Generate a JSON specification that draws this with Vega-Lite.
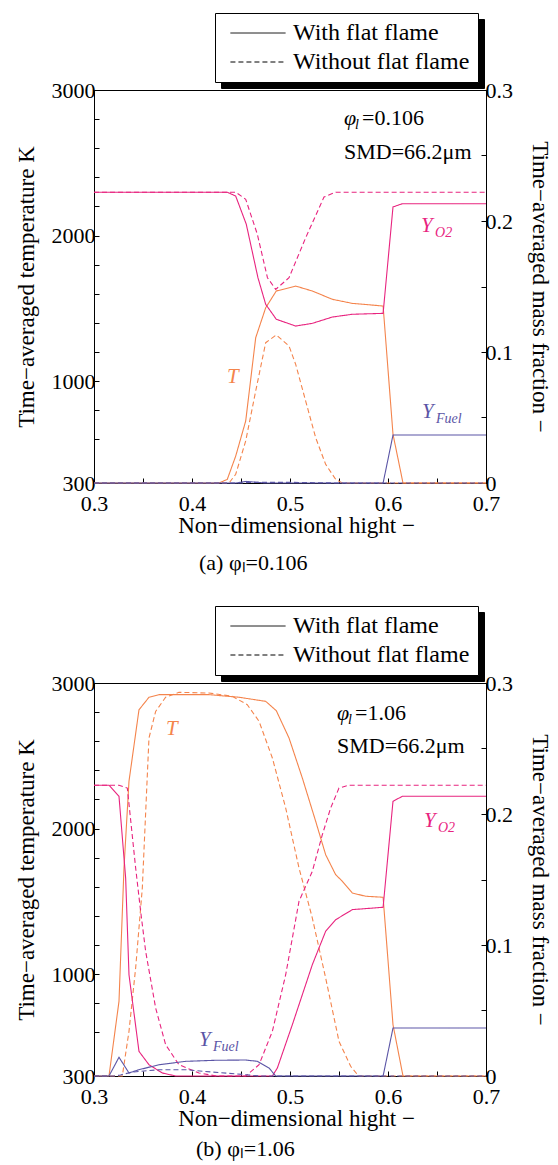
{
  "$schema": "https://vega.github.io/schema/vega-lite/v6.json",
  "padding": {"top": 12, "left": 14, "right": 6, "bottom": 0},
  "spacing": 30,
  "config": {
    "font": "Liberation Serif",
    "view": {"stroke": "black", "strokeWidth": 1},
    "axis": {"domainColor": "black", "tickColor": "black", "labelColor": "black", "titleColor": "black", "labelFont": "Liberation Serif", "titleFont": "Liberation Serif", "titleFontWeight": "normal", "grid": false, "labelFontSize": 22, "titleFontSize": 23, "labelFlush": false, "labelOverlap": false, "tickSize": -5},
    "legend": {"labelFont": "Liberation Serif", "labelLimit": 400, "symbolOpacity": 1},
    "text": {"font": "Liberation Serif"},
    "title": {"font": "Liberation Serif", "fontWeight": "normal", "fontSize": 22, "color": "black"}
  },
  "datasets": {
    "lines": [
      {"p":"a","v":"T","c":"With flat flame","x":0.3,"val":300},
      {"p":"a","v":"T","c":"With flat flame","x":0.4276,"val":300},
      {"p":"a","v":"T","c":"With flat flame","x":0.436,"val":325},
      {"p":"a","v":"T","c":"With flat flame","x":0.4446,"val":485},
      {"p":"a","v":"T","c":"With flat flame","x":0.4548,"val":726},
      {"p":"a","v":"T","c":"With flat flame","x":0.465,"val":1298},
      {"p":"a","v":"T","c":"With flat flame","x":0.4752,"val":1504},
      {"p":"a","v":"T","c":"With flat flame","x":0.486,"val":1619},
      {"p":"a","v":"T","c":"With flat flame","x":0.5058,"val":1653},
      {"p":"a","v":"T","c":"With flat flame","x":0.5228,"val":1619},
      {"p":"a","v":"T","c":"With flat flame","x":0.5432,"val":1562},
      {"p":"a","v":"T","c":"With flat flame","x":0.5636,"val":1534},
      {"p":"a","v":"T","c":"With flat flame","x":0.595,"val":1516},
      {"p":"a","v":"T","c":"With flat flame","x":0.6051,"val":635},
      {"p":"a","v":"T","c":"With flat flame","x":0.6153,"val":300},
      {"p":"a","v":"T","c":"With flat flame","x":0.7,"val":300},

      {"p":"a","v":"T","c":"Without flat flame","x":0.3,"val":300},
      {"p":"a","v":"T","c":"Without flat flame","x":0.4378,"val":300},
      {"p":"a","v":"T","c":"Without flat flame","x":0.4446,"val":360},
      {"p":"a","v":"T","c":"Without flat flame","x":0.4548,"val":589},
      {"p":"a","v":"T","c":"Without flat flame","x":0.465,"val":932},
      {"p":"a","v":"T","c":"Without flat flame","x":0.4752,"val":1264},
      {"p":"a","v":"T","c":"Without flat flame","x":0.486,"val":1317},
      {"p":"a","v":"T","c":"Without flat flame","x":0.499,"val":1241},
      {"p":"a","v":"T","c":"Without flat flame","x":0.5058,"val":1115},
      {"p":"a","v":"T","c":"Without flat flame","x":0.516,"val":863},
      {"p":"a","v":"T","c":"Without flat flame","x":0.5262,"val":611},
      {"p":"a","v":"T","c":"Without flat flame","x":0.5364,"val":428},
      {"p":"a","v":"T","c":"Without flat flame","x":0.5466,"val":325},
      {"p":"a","v":"T","c":"Without flat flame","x":0.5534,"val":300},
      {"p":"a","v":"T","c":"Without flat flame","x":0.7,"val":300},

      {"p":"a","v":"O2","c":"With flat flame","x":0.3,"val":0.222},
      {"p":"a","v":"O2","c":"With flat flame","x":0.436,"val":0.222},
      {"p":"a","v":"O2","c":"With flat flame","x":0.4446,"val":0.219},
      {"p":"a","v":"O2","c":"With flat flame","x":0.4554,"val":0.1975},
      {"p":"a","v":"O2","c":"With flat flame","x":0.4673,"val":0.1567},
      {"p":"a","v":"O2","c":"With flat flame","x":0.4752,"val":0.1364},
      {"p":"a","v":"O2","c":"With flat flame","x":0.486,"val":0.125},
      {"p":"a","v":"O2","c":"With flat flame","x":0.5058,"val":0.1198},
      {"p":"a","v":"O2","c":"With flat flame","x":0.5228,"val":0.1219},
      {"p":"a","v":"O2","c":"With flat flame","x":0.5432,"val":0.1267},
      {"p":"a","v":"O2","c":"With flat flame","x":0.5636,"val":0.1288},
      {"p":"a","v":"O2","c":"With flat flame","x":0.595,"val":0.1295},
      {"p":"a","v":"O2","c":"With flat flame","x":0.6051,"val":0.2107},
      {"p":"a","v":"O2","c":"With flat flame","x":0.6146,"val":0.2132},
      {"p":"a","v":"O2","c":"With flat flame","x":0.7,"val":0.2132},

      {"p":"a","v":"O2","c":"Without flat flame","x":0.3,"val":0.222},
      {"p":"a","v":"O2","c":"Without flat flame","x":0.4446,"val":0.222},
      {"p":"a","v":"O2","c":"Without flat flame","x":0.4548,"val":0.2166},
      {"p":"a","v":"O2","c":"Without flat flame","x":0.4667,"val":0.1898},
      {"p":"a","v":"O2","c":"Without flat flame","x":0.477,"val":0.1567},
      {"p":"a","v":"O2","c":"Without flat flame","x":0.4854,"val":0.1478},
      {"p":"a","v":"O2","c":"Without flat flame","x":0.499,"val":0.1567},
      {"p":"a","v":"O2","c":"Without flat flame","x":0.516,"val":0.1872},
      {"p":"a","v":"O2","c":"Without flat flame","x":0.5347,"val":0.2183},
      {"p":"a","v":"O2","c":"Without flat flame","x":0.5466,"val":0.222},
      {"p":"a","v":"O2","c":"Without flat flame","x":0.7,"val":0.222},

      {"p":"a","v":"Fuel","c":"With flat flame","x":0.3,"val":0},
      {"p":"a","v":"Fuel","c":"With flat flame","x":0.445,"val":0},
      {"p":"a","v":"Fuel","c":"With flat flame","x":0.455,"val":0.0012},
      {"p":"a","v":"Fuel","c":"With flat flame","x":0.465,"val":0.0006},
      {"p":"a","v":"Fuel","c":"With flat flame","x":0.475,"val":0},
      {"p":"a","v":"Fuel","c":"With flat flame","x":0.595,"val":0},
      {"p":"a","v":"Fuel","c":"With flat flame","x":0.6051,"val":0.0366},
      {"p":"a","v":"Fuel","c":"With flat flame","x":0.7,"val":0.0366},

      {"p":"a","v":"Fuel","c":"Without flat flame","x":0.3,"val":0},
      {"p":"a","v":"Fuel","c":"Without flat flame","x":0.45,"val":0},
      {"p":"a","v":"Fuel","c":"Without flat flame","x":0.46,"val":0.0005},
      {"p":"a","v":"Fuel","c":"Without flat flame","x":0.5,"val":0.0005},
      {"p":"a","v":"Fuel","c":"Without flat flame","x":0.52,"val":0.0003},
      {"p":"a","v":"Fuel","c":"Without flat flame","x":0.55,"val":0},
      {"p":"a","v":"Fuel","c":"Without flat flame","x":0.7,"val":0},

      {"p":"b","v":"T","c":"With flat flame","x":0.3,"val":300},
      {"p":"b","v":"T","c":"With flat flame","x":0.3153,"val":300},
      {"p":"b","v":"T","c":"With flat flame","x":0.3255,"val":813},
      {"p":"b","v":"T","c":"With flat flame","x":0.3306,"val":1729},
      {"p":"b","v":"T","c":"With flat flame","x":0.3357,"val":2325},
      {"p":"b","v":"T","c":"With flat flame","x":0.3459,"val":2816},
      {"p":"b","v":"T","c":"With flat flame","x":0.3561,"val":2902},
      {"p":"b","v":"T","c":"With flat flame","x":0.3663,"val":2920},
      {"p":"b","v":"T","c":"With flat flame","x":0.4173,"val":2920},
      {"p":"b","v":"T","c":"With flat flame","x":0.448,"val":2902},
      {"p":"b","v":"T","c":"With flat flame","x":0.4752,"val":2874},
      {"p":"b","v":"T","c":"With flat flame","x":0.486,"val":2810},
      {"p":"b","v":"T","c":"With flat flame","x":0.499,"val":2622},
      {"p":"b","v":"T","c":"With flat flame","x":0.5126,"val":2347},
      {"p":"b","v":"T","c":"With flat flame","x":0.5262,"val":2050},
      {"p":"b","v":"T","c":"With flat flame","x":0.5364,"val":1820},
      {"p":"b","v":"T","c":"With flat flame","x":0.5466,"val":1683},
      {"p":"b","v":"T","c":"With flat flame","x":0.5534,"val":1638},
      {"p":"b","v":"T","c":"With flat flame","x":0.5636,"val":1557},
      {"p":"b","v":"T","c":"With flat flame","x":0.5772,"val":1535},
      {"p":"b","v":"T","c":"With flat flame","x":0.595,"val":1528},
      {"p":"b","v":"T","c":"With flat flame","x":0.6051,"val":652},
      {"p":"b","v":"T","c":"With flat flame","x":0.6153,"val":300},
      {"p":"b","v":"T","c":"With flat flame","x":0.7,"val":300},

      {"p":"b","v":"T","c":"Without flat flame","x":0.3,"val":300},
      {"p":"b","v":"T","c":"Without flat flame","x":0.3289,"val":300},
      {"p":"b","v":"T","c":"Without flat flame","x":0.3357,"val":607},
      {"p":"b","v":"T","c":"Without flat flame","x":0.3425,"val":1042},
      {"p":"b","v":"T","c":"Without flat flame","x":0.3493,"val":1592},
      {"p":"b","v":"T","c":"Without flat flame","x":0.3561,"val":2622},
      {"p":"b","v":"T","c":"Without flat flame","x":0.3629,"val":2805},
      {"p":"b","v":"T","c":"Without flat flame","x":0.3731,"val":2902},
      {"p":"b","v":"T","c":"Without flat flame","x":0.3867,"val":2936},
      {"p":"b","v":"T","c":"Without flat flame","x":0.4173,"val":2931},
      {"p":"b","v":"T","c":"Without flat flame","x":0.4411,"val":2909},
      {"p":"b","v":"T","c":"Without flat flame","x":0.4564,"val":2851},
      {"p":"b","v":"T","c":"Without flat flame","x":0.4684,"val":2737},
      {"p":"b","v":"T","c":"Without flat flame","x":0.482,"val":2485},
      {"p":"b","v":"T","c":"Without flat flame","x":0.4956,"val":2141},
      {"p":"b","v":"T","c":"Without flat flame","x":0.5092,"val":1729},
      {"p":"b","v":"T","c":"Without flat flame","x":0.5228,"val":1385},
      {"p":"b","v":"T","c":"Without flat flame","x":0.5364,"val":973},
      {"p":"b","v":"T","c":"Without flat flame","x":0.55,"val":538},
      {"p":"b","v":"T","c":"Without flat flame","x":0.5619,"val":367},
      {"p":"b","v":"T","c":"Without flat flame","x":0.57,"val":300},
      {"p":"b","v":"T","c":"Without flat flame","x":0.7,"val":300},

      {"p":"b","v":"O2","c":"With flat flame","x":0.3,"val":0.222},
      {"p":"b","v":"O2","c":"With flat flame","x":0.3153,"val":0.222},
      {"p":"b","v":"O2","c":"With flat flame","x":0.3255,"val":0.2135},
      {"p":"b","v":"O2","c":"With flat flame","x":0.3323,"val":0.151},
      {"p":"b","v":"O2","c":"With flat flame","x":0.3357,"val":0.0773},
      {"p":"b","v":"O2","c":"With flat flame","x":0.3459,"val":0.0188},
      {"p":"b","v":"O2","c":"With flat flame","x":0.3561,"val":0.0086},
      {"p":"b","v":"O2","c":"With flat flame","x":0.3697,"val":0.0023},
      {"p":"b","v":"O2","c":"With flat flame","x":0.3833,"val":0},
      {"p":"b","v":"O2","c":"With flat flame","x":0.482,"val":0},
      {"p":"b","v":"O2","c":"With flat flame","x":0.4871,"val":0.0061},
      {"p":"b","v":"O2","c":"With flat flame","x":0.5024,"val":0.0392},
      {"p":"b","v":"O2","c":"With flat flame","x":0.5228,"val":0.085},
      {"p":"b","v":"O2","c":"With flat flame","x":0.5364,"val":0.1105},
      {"p":"b","v":"O2","c":"With flat flame","x":0.5466,"val":0.1193},
      {"p":"b","v":"O2","c":"With flat flame","x":0.5636,"val":0.127},
      {"p":"b","v":"O2","c":"With flat flame","x":0.595,"val":0.1288},
      {"p":"b","v":"O2","c":"With flat flame","x":0.6051,"val":0.2097},
      {"p":"b","v":"O2","c":"With flat flame","x":0.6146,"val":0.2135},
      {"p":"b","v":"O2","c":"With flat flame","x":0.7,"val":0.2135},

      {"p":"b","v":"O2","c":"Without flat flame","x":0.3,"val":0.222},
      {"p":"b","v":"O2","c":"Without flat flame","x":0.3255,"val":0.222},
      {"p":"b","v":"O2","c":"Without flat flame","x":0.334,"val":0.2198},
      {"p":"b","v":"O2","c":"Without flat flame","x":0.3425,"val":0.1588},
      {"p":"b","v":"O2","c":"Without flat flame","x":0.3476,"val":0.1257},
      {"p":"b","v":"O2","c":"Without flat flame","x":0.3527,"val":0.0952},
      {"p":"b","v":"O2","c":"Without flat flame","x":0.3629,"val":0.0519},
      {"p":"b","v":"O2","c":"Without flat flame","x":0.3731,"val":0.0239},
      {"p":"b","v":"O2","c":"Without flat flame","x":0.3867,"val":0.0086},
      {"p":"b","v":"O2","c":"Without flat flame","x":0.4071,"val":0.0023},
      {"p":"b","v":"O2","c":"Without flat flame","x":0.425,"val":0},
      {"p":"b","v":"O2","c":"Without flat flame","x":0.4548,"val":0},
      {"p":"b","v":"O2","c":"Without flat flame","x":0.4684,"val":0.0086},
      {"p":"b","v":"O2","c":"Without flat flame","x":0.482,"val":0.0341},
      {"p":"b","v":"O2","c":"Without flat flame","x":0.4956,"val":0.0773},
      {"p":"b","v":"O2","c":"Without flat flame","x":0.5092,"val":0.1334},
      {"p":"b","v":"O2","c":"Without flat flame","x":0.5228,"val":0.1563},
      {"p":"b","v":"O2","c":"Without flat flame","x":0.533,"val":0.1842},
      {"p":"b","v":"O2","c":"Without flat flame","x":0.5415,"val":0.2046},
      {"p":"b","v":"O2","c":"Without flat flame","x":0.55,"val":0.2198},
      {"p":"b","v":"O2","c":"Without flat flame","x":0.5602,"val":0.222},
      {"p":"b","v":"O2","c":"Without flat flame","x":0.7,"val":0.222},

      {"p":"b","v":"Fuel","c":"With flat flame","x":0.3,"val":0},
      {"p":"b","v":"Fuel","c":"With flat flame","x":0.3153,"val":0},
      {"p":"b","v":"Fuel","c":"With flat flame","x":0.3255,"val":0.0143},
      {"p":"b","v":"Fuel","c":"With flat flame","x":0.3357,"val":0.0023},
      {"p":"b","v":"Fuel","c":"With flat flame","x":0.3459,"val":0.0048},
      {"p":"b","v":"Fuel","c":"With flat flame","x":0.3663,"val":0.0086},
      {"p":"b","v":"Fuel","c":"With flat flame","x":0.3935,"val":0.0112},
      {"p":"b","v":"Fuel","c":"With flat flame","x":0.4241,"val":0.012},
      {"p":"b","v":"Fuel","c":"With flat flame","x":0.4548,"val":0.0122},
      {"p":"b","v":"Fuel","c":"With flat flame","x":0.4667,"val":0.0112},
      {"p":"b","v":"Fuel","c":"With flat flame","x":0.4786,"val":0.0061},
      {"p":"b","v":"Fuel","c":"With flat flame","x":0.4854,"val":0},
      {"p":"b","v":"Fuel","c":"With flat flame","x":0.595,"val":0},
      {"p":"b","v":"Fuel","c":"With flat flame","x":0.6051,"val":0.0366},
      {"p":"b","v":"Fuel","c":"With flat flame","x":0.7,"val":0.0366},

      {"p":"b","v":"Fuel","c":"Without flat flame","x":0.3,"val":0},
      {"p":"b","v":"Fuel","c":"Without flat flame","x":0.32,"val":0},
      {"p":"b","v":"Fuel","c":"Without flat flame","x":0.327,"val":0.0008},
      {"p":"b","v":"Fuel","c":"Without flat flame","x":0.339,"val":0.003},
      {"p":"b","v":"Fuel","c":"Without flat flame","x":0.3663,"val":0.0048},
      {"p":"b","v":"Fuel","c":"Without flat flame","x":0.3935,"val":0.0048},
      {"p":"b","v":"Fuel","c":"Without flat flame","x":0.4207,"val":0.003},
      {"p":"b","v":"Fuel","c":"Without flat flame","x":0.4548,"val":0.001},
      {"p":"b","v":"Fuel","c":"Without flat flame","x":0.4684,"val":0},
      {"p":"b","v":"Fuel","c":"Without flat flame","x":0.7,"val":0}
    ],
    "species": [
      {"p":"a","k":"O2","x":0.6337,"y":0.1916,"main":"Y","sub":"O2"},
      {"p":"a","k":"T","x":0.4357,"y":0.0763,"main":"T","sub":""},
      {"p":"a","k":"Fuel","x":0.6347,"y":0.0496,"main":"Y","sub":"Fuel"},
      {"p":"b","k":"T","x":0.3735,"y":0.2603,"main":"T","sub":""},
      {"p":"b","k":"O2","x":0.6367,"y":0.19,"main":"Y","sub":"O2"},
      {"p":"b","k":"Fuel","x":0.4071,"y":0.0229,"main":"Y","sub":"Fuel"}
    ],
    "phi": [
      {"p":"a","x":0.5551,"y":0.2733,"main":"φ","sub":"l"},
      {"p":"b","x":0.548,"y":0.2718,"main":"φ","sub":"l"}
    ],
    "notes": [
      {"p":"a","x":0.5735,"y":0.2733,"text":"=0.106"},
      {"p":"a","x":0.5551,"y":0.2473,"text":"SMD=66.2μm"},
      {"p":"b","x":0.5664,"y":0.2718,"text":"=1.06"},
      {"p":"b","x":0.548,"y":0.2466,"text":"SMD=66.2μm"}
    ]
  },
  "resolve": {
    "scale": {"strokeDash": "independent", "opacity": "independent", "color": "independent"},
    "legend": {"strokeDash": "independent", "opacity": "independent"}
  },
  "vconcat": [
    {
      "width": 392, "height": 393,
      "title": {"text": "(a) φₗ=0.106", "orient": "bottom", "anchor": "start", "frame": "group", "dx": 105, "offset": 16},
      "resolve": {"scale": {"y": "independent"}},
      "layer": [
        {
          "data": {"name": "lines"},
          "transform": [{"filter": "datum.p=='a' && datum.v=='T'"}],
          "mark": {"type": "line", "strokeWidth": 1.1},
          "encoding": {
            "x": {"field": "x", "type": "quantitative", "scale": {"domain": [0.3, 0.7], "nice": false, "zero": false},
                  "axis": {"title": "Non−dimensional hight  −", "values": [0.3,0.35,0.4,0.45,0.5,0.55,0.6,0.65,0.7], "labelExpr": "round(datum.value*100)%10==0 ? format(datum.value,'.1f') : ''", "labelPadding": 15, "titlePadding": 0, "titleX": 202}},
            "y": {"field": "val", "type": "quantitative", "scale": {"domain": [300, 3000], "nice": false, "zero": false},
                  "axis": {"title": "Time−averaged temperature  K", "values": [300,600,800,1000,1200,1400,1600,1800,2000,2200,2400,2600,2800,3000], "format": "d", "labelExpr": "datum.value==300 || datum.value%1000==0 ? datum.label : ''", "labelPadding": 4, "titlePadding": 13}},
            "color": {"field": "v", "type": "nominal", "scale": {"domain": ["T","O2","Fuel","note"], "range": ["#F4844C","#E8247F","#5B55A6","#000000"]}, "legend": null},
            "strokeDash": {"field": "c", "type": "nominal", "scale": {"domain": ["With flat flame","Without flat flame"], "range": [[1,0],[5,3]]},
                  "legend": {"orient": "none", "legendX": 121, "legendY": -77, "title": null, "fillColor": "white", "strokeColor": "black", "padding": 8, "symbolType": "M-4,0H4", "symbolSize": 190, "symbolStrokeColor": "black", "symbolStrokeWidth": 1, "symbolOffset": 23, "labelOffset": 23, "labelFontSize": 24, "labelColor": "black", "rowPadding": 5, "zindex": 2}},
            "opacity": {"field": "c", "type": "ordinal", "scale": {"domain": ["Without flat flame","With flat flame"], "range": [1,1]},
                  "legend": {"orient": "none", "legendX": 127, "legendY": -71, "title": null, "fillColor": "black", "strokeColor": "black", "padding": 8, "symbolType": "M-4,0H4", "symbolSize": 190, "symbolStrokeColor": "black", "symbolFillColor": "black", "symbolStrokeWidth": 1, "symbolOffset": 23, "labelOffset": 200, "labelExpr": "''", "labelFontSize": 24, "labelColor": "black", "rowPadding": 5, "zindex": 1}}
          }
        },
        {
          "data": {"name": "lines"},
          "transform": [{"filter": "datum.p=='a' && datum.v!='T'"}],
          "mark": {"type": "line", "strokeWidth": 1.1},
          "encoding": {
            "x": {"field": "x", "type": "quantitative", "scale": {"domain": [0.3, 0.7], "nice": false, "zero": false}},
            "y": {"field": "val", "type": "quantitative", "scale": {"domain": [0, 0.3], "nice": false, "zero": false},
                  "axis": {"orient": "right", "title": "Time−averaged mass fraction  −", "values": [0,0.05,0.1,0.15,0.2,0.25,0.3], "labelExpr": "round(datum.value*100)%10==0 ? (datum.value==0 ? '0' : format(datum.value,'.1f')) : ''", "labelPadding": 4, "titlePadding": 15}},
            "color": {"field": "v", "type": "nominal", "scale": {"domain": ["T","O2","Fuel","note"], "range": ["#F4844C","#E8247F","#5B55A6","#000000"]}, "legend": null},
            "strokeDash": {"field": "c", "type": "nominal", "scale": {"domain": ["With flat flame","Without flat flame"], "range": [[1,0],[5,3]]}},
            "opacity": {"field": "c", "type": "ordinal", "scale": {"domain": ["Without flat flame","With flat flame"], "range": [1,1]}}
          }
        },
        {
          "data": {"name": "species"},
          "transform": [{"filter": "datum.p=='a'"}],
          "mark": {"type": "text", "align": "left", "baseline": "alphabetic", "fontStyle": "italic", "fontSize": 21},
          "encoding": {
            "x": {"field": "x", "type": "quantitative", "scale": {"domain": [0.3, 0.7], "nice": false, "zero": false}},
            "y": {"field": "y", "type": "quantitative", "scale": {"domain": [0, 0.3], "nice": false, "zero": false}, "axis": null},
            "text": {"field": "main"},
            "color": {"field": "k", "type": "nominal", "scale": {"domain": ["T","O2","Fuel","note"], "range": ["#F4844C","#E8247F","#5B55A6","#000000"]}, "legend": null}
          }
        },
        {
          "data": {"name": "species"},
          "transform": [{"filter": "datum.p=='a'"}],
          "mark": {"type": "text", "align": "left", "baseline": "alphabetic", "fontStyle": "italic", "fontSize": 14, "dx": 14, "dy": 5},
          "encoding": {
            "x": {"field": "x", "type": "quantitative", "scale": {"domain": [0.3, 0.7], "nice": false, "zero": false}},
            "y": {"field": "y", "type": "quantitative", "scale": {"domain": [0, 0.3], "nice": false, "zero": false}, "axis": null},
            "text": {"field": "sub"},
            "color": {"field": "k", "type": "nominal", "scale": {"domain": ["T","O2","Fuel","note"], "range": ["#F4844C","#E8247F","#5B55A6","#000000"]}, "legend": null}
          }
        },
        {
          "data": {"name": "phi"},
          "transform": [{"filter": "datum.p=='a'"}],
          "mark": {"type": "text", "align": "left", "baseline": "alphabetic", "fontStyle": "italic", "fontSize": 22, "color": "black"},
          "encoding": {
            "x": {"field": "x", "type": "quantitative", "scale": {"domain": [0.3, 0.7], "nice": false, "zero": false}},
            "y": {"field": "y", "type": "quantitative", "scale": {"domain": [0, 0.3], "nice": false, "zero": false}, "axis": null},
            "text": {"field": "main"}
          }
        },
        {
          "data": {"name": "phi"},
          "transform": [{"filter": "datum.p=='a'"}],
          "mark": {"type": "text", "align": "left", "baseline": "alphabetic", "fontStyle": "italic", "fontSize": 14, "dx": 11, "dy": 4, "color": "black"},
          "encoding": {
            "x": {"field": "x", "type": "quantitative", "scale": {"domain": [0.3, 0.7], "nice": false, "zero": false}},
            "y": {"field": "y", "type": "quantitative", "scale": {"domain": [0, 0.3], "nice": false, "zero": false}, "axis": null},
            "text": {"field": "sub"}
          }
        },
        {
          "data": {"name": "notes"},
          "transform": [{"filter": "datum.p=='a'"}],
          "mark": {"type": "text", "align": "left", "baseline": "alphabetic", "fontSize": 22, "color": "black"},
          "encoding": {
            "x": {"field": "x", "type": "quantitative", "scale": {"domain": [0.3, 0.7], "nice": false, "zero": false}},
            "y": {"field": "y", "type": "quantitative", "scale": {"domain": [0, 0.3], "nice": false, "zero": false}, "axis": null},
            "text": {"field": "text"}
          }
        }
      ]
    },
    {
      "width": 392, "height": 393,
      "title": {"text": "(b) φₗ=1.06", "orient": "bottom", "anchor": "start", "frame": "group", "dx": 102, "offset": 9},
      "resolve": {"scale": {"y": "independent"}},
      "layer": [
        {
          "data": {"name": "lines"},
          "transform": [{"filter": "datum.p=='b' && datum.v=='T'"}],
          "mark": {"type": "line", "strokeWidth": 1.1},
          "encoding": {
            "x": {"field": "x", "type": "quantitative", "scale": {"domain": [0.3, 0.7], "nice": false, "zero": false},
                  "axis": {"title": "Non−dimensional hight  −", "values": [0.3,0.35,0.4,0.45,0.5,0.55,0.6,0.65,0.7], "labelExpr": "round(datum.value*100)%10==0 ? format(datum.value,'.1f') : ''", "labelPadding": 15, "titlePadding": 0, "titleX": 202}},
            "y": {"field": "val", "type": "quantitative", "scale": {"domain": [300, 3000], "nice": false, "zero": false},
                  "axis": {"title": "Time−averaged temperature  K", "values": [300,600,800,1000,1200,1400,1600,1800,2000,2200,2400,2600,2800,3000], "format": "d", "labelExpr": "datum.value==300 || datum.value%1000==0 ? datum.label : ''", "labelPadding": 4, "titlePadding": 13}},
            "color": {"field": "v", "type": "nominal", "scale": {"domain": ["T","O2","Fuel","note"], "range": ["#F4844C","#E8247F","#5B55A6","#000000"]}, "legend": null},
            "strokeDash": {"field": "c", "type": "nominal", "scale": {"domain": ["With flat flame","Without flat flame"], "range": [[1,0],[5,3]]},
                  "legend": {"orient": "none", "legendX": 121, "legendY": -77, "title": null, "fillColor": "white", "strokeColor": "black", "padding": 8, "symbolType": "M-4,0H4", "symbolSize": 190, "symbolStrokeColor": "black", "symbolStrokeWidth": 1, "symbolOffset": 23, "labelOffset": 23, "labelFontSize": 24, "labelColor": "black", "rowPadding": 5, "zindex": 2}},
            "opacity": {"field": "c", "type": "ordinal", "scale": {"domain": ["Without flat flame","With flat flame"], "range": [1,1]},
                  "legend": {"orient": "none", "legendX": 127, "legendY": -71, "title": null, "fillColor": "black", "strokeColor": "black", "padding": 8, "symbolType": "M-4,0H4", "symbolSize": 190, "symbolStrokeColor": "black", "symbolFillColor": "black", "symbolStrokeWidth": 1, "symbolOffset": 23, "labelOffset": 200, "labelExpr": "''", "labelFontSize": 24, "labelColor": "black", "rowPadding": 5, "zindex": 1}}
          }
        },
        {
          "data": {"name": "lines"},
          "transform": [{"filter": "datum.p=='b' && datum.v!='T'"}],
          "mark": {"type": "line", "strokeWidth": 1.1},
          "encoding": {
            "x": {"field": "x", "type": "quantitative", "scale": {"domain": [0.3, 0.7], "nice": false, "zero": false}},
            "y": {"field": "val", "type": "quantitative", "scale": {"domain": [0, 0.3], "nice": false, "zero": false},
                  "axis": {"orient": "right", "title": "Time−averaged mass fraction  −", "values": [0,0.05,0.1,0.15,0.2,0.25,0.3], "labelExpr": "round(datum.value*100)%10==0 ? (datum.value==0 ? '0' : format(datum.value,'.1f')) : ''", "labelPadding": 4, "titlePadding": 15}},
            "color": {"field": "v", "type": "nominal", "scale": {"domain": ["T","O2","Fuel","note"], "range": ["#F4844C","#E8247F","#5B55A6","#000000"]}, "legend": null},
            "strokeDash": {"field": "c", "type": "nominal", "scale": {"domain": ["With flat flame","Without flat flame"], "range": [[1,0],[5,3]]}},
            "opacity": {"field": "c", "type": "ordinal", "scale": {"domain": ["Without flat flame","With flat flame"], "range": [1,1]}}
          }
        },
        {
          "data": {"name": "species"},
          "transform": [{"filter": "datum.p=='b'"}],
          "mark": {"type": "text", "align": "left", "baseline": "alphabetic", "fontStyle": "italic", "fontSize": 21},
          "encoding": {
            "x": {"field": "x", "type": "quantitative", "scale": {"domain": [0.3, 0.7], "nice": false, "zero": false}},
            "y": {"field": "y", "type": "quantitative", "scale": {"domain": [0, 0.3], "nice": false, "zero": false}, "axis": null},
            "text": {"field": "main"},
            "color": {"field": "k", "type": "nominal", "scale": {"domain": ["T","O2","Fuel","note"], "range": ["#F4844C","#E8247F","#5B55A6","#000000"]}, "legend": null}
          }
        },
        {
          "data": {"name": "species"},
          "transform": [{"filter": "datum.p=='b'"}],
          "mark": {"type": "text", "align": "left", "baseline": "alphabetic", "fontStyle": "italic", "fontSize": 14, "dx": 14, "dy": 5},
          "encoding": {
            "x": {"field": "x", "type": "quantitative", "scale": {"domain": [0.3, 0.7], "nice": false, "zero": false}},
            "y": {"field": "y", "type": "quantitative", "scale": {"domain": [0, 0.3], "nice": false, "zero": false}, "axis": null},
            "text": {"field": "sub"},
            "color": {"field": "k", "type": "nominal", "scale": {"domain": ["T","O2","Fuel","note"], "range": ["#F4844C","#E8247F","#5B55A6","#000000"]}, "legend": null}
          }
        },
        {
          "data": {"name": "phi"},
          "transform": [{"filter": "datum.p=='b'"}],
          "mark": {"type": "text", "align": "left", "baseline": "alphabetic", "fontStyle": "italic", "fontSize": 22, "color": "black"},
          "encoding": {
            "x": {"field": "x", "type": "quantitative", "scale": {"domain": [0.3, 0.7], "nice": false, "zero": false}},
            "y": {"field": "y", "type": "quantitative", "scale": {"domain": [0, 0.3], "nice": false, "zero": false}, "axis": null},
            "text": {"field": "main"}
          }
        },
        {
          "data": {"name": "phi"},
          "transform": [{"filter": "datum.p=='b'"}],
          "mark": {"type": "text", "align": "left", "baseline": "alphabetic", "fontStyle": "italic", "fontSize": 14, "dx": 11, "dy": 4, "color": "black"},
          "encoding": {
            "x": {"field": "x", "type": "quantitative", "scale": {"domain": [0.3, 0.7], "nice": false, "zero": false}},
            "y": {"field": "y", "type": "quantitative", "scale": {"domain": [0, 0.3], "nice": false, "zero": false}, "axis": null},
            "text": {"field": "sub"}
          }
        },
        {
          "data": {"name": "notes"},
          "transform": [{"filter": "datum.p=='b'"}],
          "mark": {"type": "text", "align": "left", "baseline": "alphabetic", "fontSize": 22, "color": "black"},
          "encoding": {
            "x": {"field": "x", "type": "quantitative", "scale": {"domain": [0.3, 0.7], "nice": false, "zero": false}},
            "y": {"field": "y", "type": "quantitative", "scale": {"domain": [0, 0.3], "nice": false, "zero": false}, "axis": null},
            "text": {"field": "text"}
          }
        }
      ]
    }
  ]
}
